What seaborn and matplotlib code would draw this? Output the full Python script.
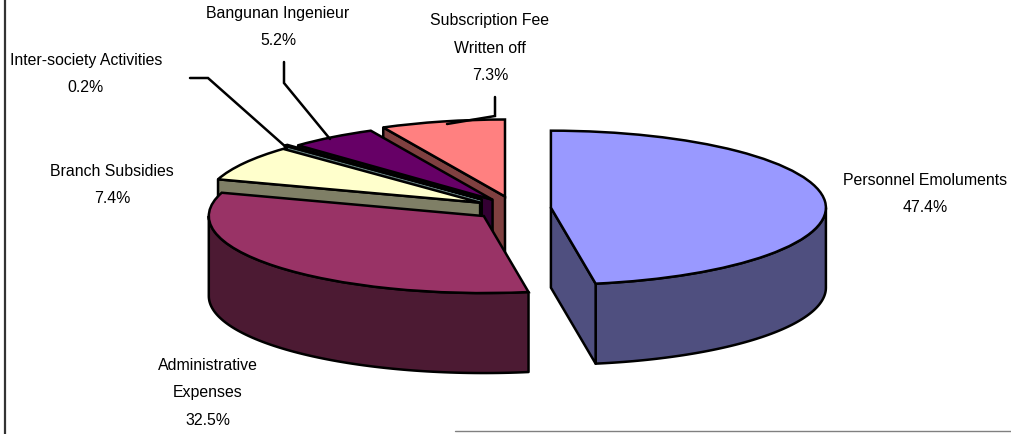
import numpy as np
import matplotlib
matplotlib.use("Agg")
import matplotlib.pyplot as plt
import seaborn as sns

categories = ["Personnel Emoluments", "Administrative\nExpenses", "Branch Subsidies",
              "Inter-society Activities", "Bangunan Ingenieur", "Subscription Fee\nWritten off"]
values = [47.4, 32.5, 7.4, 0.2, 5.2, 7.3]
top_colors = ["#9999FF", "#993366", "#FFFFCC", "#CCFFFF", "#660066", "#FF8080"]
side_colors = ["#4F4F7F", "#4C1A33", "#7F7F66", "#667F7F", "#330033", "#7F4040"]
explode = [0.131, 0.15, 0.148, 0.17, 0.14, 0.16]
draw_rank = [6, 5, 4, 3, 2, 1]
label_pos = [(925, 194), (208, 393), (112, 185), (86, 74), (278, 27), (490, 48)]
leaders = [None, None, None,
           [(190, 79), (208, 79), (287, 149)],
           [(284, 63), (284, 84), (330, 140)],
           [(495, 98), (495, 117), (447, 125)]]

W, H = 1012, 435
CX, CY, RX, RY, DEPTH = 515, 209.5, 275, 77, 80

sns.set_theme(style="white")
plt.rcParams["font.family"] = ["Liberation Sans", "DejaVu Sans"]

fig = plt.figure(figsize=(W / 100, H / 100), dpi=100, facecolor="white")
ax = fig.add_axes([0, 0, 1, 1])

LW = 1.8
wedges, _ = ax.pie(values, explode=explode, colors=sns.color_palette(top_colors),
                   startangle=90, counterclock=False, radius=1,
                   wedgeprops=dict(edgecolor="black", linewidth=LW))
ax.set_aspect("auto")
ax.set_xlim((0 - CX) / RX, (W - CX) / RX)
ax.set_ylim((CY - H) / RY, CY / RY)
ax.axis("off")

dz = DEPTH / RY


def fx(x):
    return (x - CX) / RX


def fy(y):
    return (CY - y) / RY


for w, side, rank in zip(wedges, side_colors, draw_rank):
    cx, cy = w.center
    start = 90 - w.theta2
    end = 90 - w.theta1
    w.set_zorder(rank + 0.5)
    style = dict(facecolor=side, edgecolor="black", linewidth=LW, zorder=rank, joinstyle="round")
    # outer wall: only the part of the rim that faces the viewer
    lo, hi = max(start, 90), min(end, 270)
    if hi > lo:
        b = np.radians(np.linspace(lo, hi, 80))
        x = cx + np.sin(b)
        y = cy + np.cos(b)
        ax.fill(np.r_[x, x[::-1]], np.r_[y, y[::-1] - dz], **style)
    # cut faces that turn towards the viewer
    for bearing, show in ((start, 180 < start < 360), (end, 0 < end < 180)):
        if show:
            b = np.radians(bearing)
            rx, ry = cx + np.sin(b), cy + np.cos(b)
            ax.fill([cx, rx, rx, cx], [cy, ry, ry - dz, cy - dz], **style)

for name, value, (px, py), leader in zip(categories, values, label_pos, leaders):
    ax.text(fx(px), fy(py), f"{name}\n{value:.1f}%", ha="center", va="center",
            fontsize=11.4, linespacing=2.02, color="black", zorder=20)
    if leader:
        xs, ys = zip(*leader)
        ax.plot(fx(np.array(xs)), fy(np.array(ys)), color="black", lw=LW, zorder=19,
                solid_joinstyle="miter")

# page frame remnants
ax.plot(fx(np.array([5, 5])), fy(np.array([0, H])), color="#333333", lw=1.6, zorder=1)
ax.plot(fx(np.array([455, W])), fy(np.array([432, 432])), color="#808080", lw=1.0, zorder=1)

fig.savefig("out.png", dpi=100, facecolor="white")
